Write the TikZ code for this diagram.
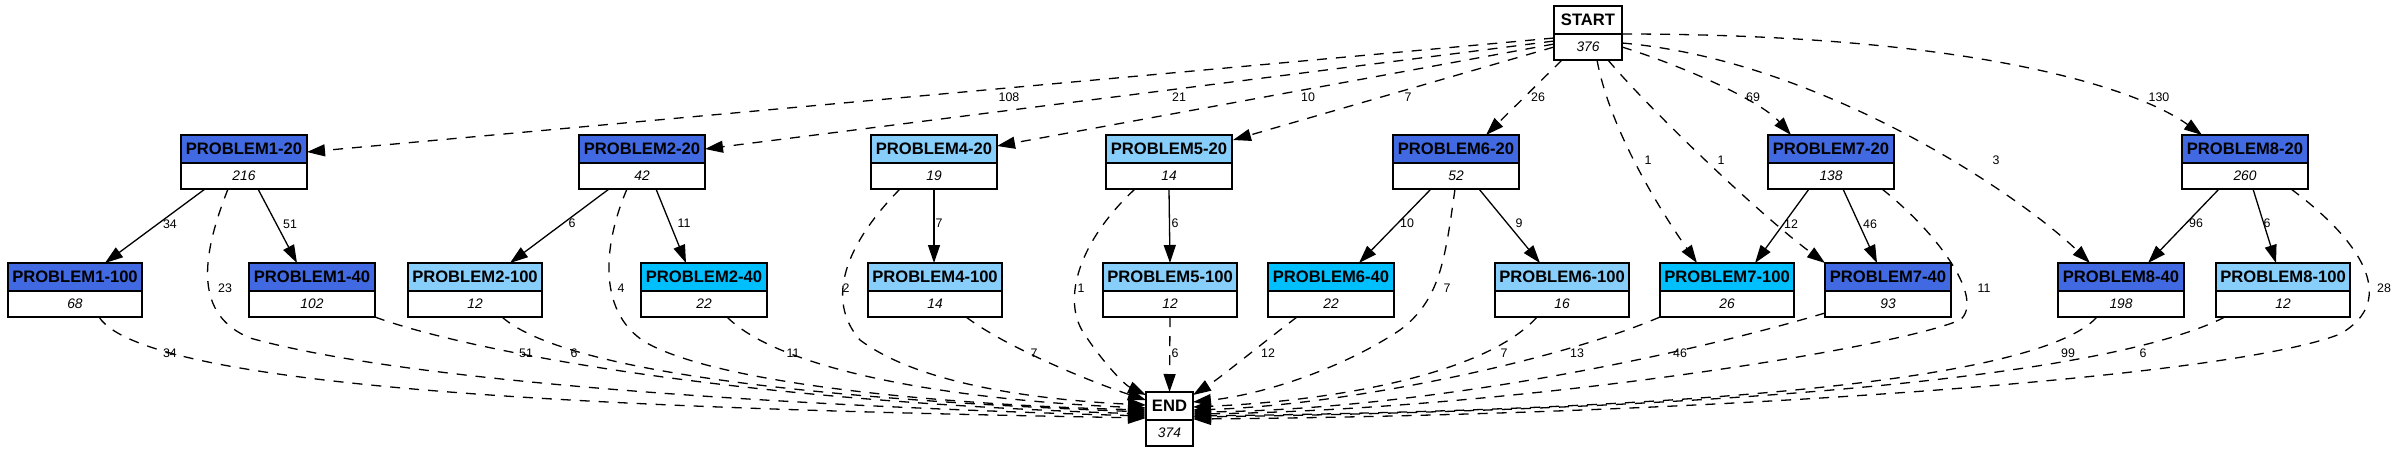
\documentclass[tikz,border=0pt]{standalone}
\usepackage{fontspec}
\newfontfamily\lsans{Liberation Sans}
\usetikzlibrary{arrows.meta,calc}
\definecolor{royal}{HTML}{4169E1}
\definecolor{lsky}{HTML}{87CEFA}
\definecolor{dsky}{HTML}{00BFFF}
\tikzset{
 boxn/.style={draw=black, line width=0.75pt, inner sep=0pt, outer sep=0pt, minimum height=27pt},
 ttl/.style={font=\lsans\bfseries\fontsize{8.3}{9}\selectfont, inner sep=0pt},
 val/.style={font=\lsans\itshape\fontsize{6.9}{8}\selectfont, inner sep=0pt},
 lbl/.style={font=\lsans\fontsize{6.2}{7}\selectfont, inner sep=0pt},
 solidarr/.style={line width=0.65pt, -{Triangle[length=9pt,width=6pt]}},
 dasharr/.style={solidarr, dash pattern=on 5pt off 4.5pt},
}
\newcommand\gbox[7]{%
  \node[boxn, minimum width=#4*0.5pt, anchor=north west, fill=#5,
    path picture={\fill[white] ([yshift=-14pt]path picture bounding box.north west) rectangle (path picture bounding box.south east);
      \draw[line width=0.75pt] ([yshift=-14pt]path picture bounding box.north west) -- ([yshift=-14pt]path picture bounding box.north east);}]
    (#1) at (#2,#3) {};
  \node[ttl] (#1-t) at ([yshift=-7pt]#1.north) {#6};
  \node[val] (#1-v) at ([yshift=6.5pt]#1.south) {#7};
}
\begin{document}
\begin{tikzpicture}[x=0.5pt,y=-0.5pt]
\useasboundingbox[fill=white] (0,0) rectangle (2400,452);
% nodes
\gbox{start}{1554}{6}{68}{white}{START}{376}
\gbox{p1a}{181}{135}{126}{royal}{PROBLEM1-20}{216}
\gbox{p2a}{579}{135}{126}{royal}{PROBLEM2-20}{42}
\gbox{p4a}{871}{135}{126}{lsky}{PROBLEM4-20}{19}
\gbox{p5a}{1106}{135}{126}{lsky}{PROBLEM5-20}{14}
\gbox{p6a}{1393}{135}{126}{royal}{PROBLEM6-20}{52}
\gbox{p7a}{1768}{135}{126}{royal}{PROBLEM7-20}{138}
\gbox{p8a}{2182}{135}{126}{royal}{PROBLEM8-20}{260}
\gbox{p1c}{8}{263}{134}{royal}{PROBLEM1-100}{68}
\gbox{p1b}{249}{263}{126}{royal}{PROBLEM1-40}{102}
\gbox{p2c}{408}{263}{134}{lsky}{PROBLEM2-100}{12}
\gbox{p2b}{641}{263}{126}{dsky}{PROBLEM2-40}{22}
\gbox{p4c}{868}{263}{134}{lsky}{PROBLEM4-100}{14}
\gbox{p5c}{1103}{263}{134}{lsky}{PROBLEM5-100}{12}
\gbox{p6b}{1268}{263}{126}{dsky}{PROBLEM6-40}{22}
\gbox{p6c}{1495}{263}{134}{lsky}{PROBLEM6-100}{16}
\gbox{p7c}{1660}{263}{134}{dsky}{PROBLEM7-100}{26}
\gbox{p7b}{1825}{263}{126}{royal}{PROBLEM7-40}{93}
\gbox{p8b}{2058}{263}{126}{royal}{PROBLEM8-40}{198}
\gbox{p8c}{2216}{263}{134}{lsky}{PROBLEM8-100}{12}
\gbox{end}{1146}{392}{47}{white}{END}{374}
% solid edges
\draw[solidarr] ($(p1a.north west)+(24,54)$) -- ($(p1c.north west)+(97,0)$);
\draw[solidarr] ($(p1a.north west)+(77,54)$) -- ($(p1b.north west)+(48,0)$);
\draw[solidarr] ($(p2a.north west)+(30,54)$) -- ($(p2c.north west)+(102,0)$);
\draw[solidarr] ($(p2a.north west)+(77,54)$) -- ($(p2b.north west)+(45,0)$);
\draw[solidarr] ($(p4a.north west)+(63,54)$) -- ($(p4c.north west)+(66,0)$);
\draw[solidarr] (p5a.south) -- (p5c.north);
\draw[solidarr] ($(p6a.north west)+(38,54)$) -- ($(p6b.north west)+(91,0)$);
\draw[solidarr] ($(p6a.north west)+(86,54)$) -- ($(p6c.north west)+(45,0)$);
\draw[solidarr] ($(p7a.north west)+(41,54)$) -- ($(p7c.north west)+(95,0)$);
\draw[solidarr] ($(p7a.north west)+(75,54)$) -- ($(p7b.north west)+(52,0)$);
\draw[solidarr] ($(p8a.north west)+(37,54)$) -- ($(p8b.north west)+(90,0)$);
\draw[solidarr] ($(p8a.north west)+(71,54)$) -- ($(p8c.north west)+(60,0)$);
% start edges
\draw[dasharr] ($(start.north west)+(0,32)$) -- ($(p1a.north west)+(126,17)$);
\draw[dasharr] ($(start.north west)+(0,35)$) -- ($(p2a.north west)+(126,14)$);
\draw[dasharr] ($(start.north west)+(0,38)$) -- ($(p4a.north west)+(126,11)$);
\draw[dasharr] ($(start.north west)+(0,41)$) -- ($(p5a.north west)+(127,5)$);
\draw[dasharr] ($(start.north west)+(8,54)$) -- ($(p6a.north west)+(93,0)$);
\draw[dasharr] ($(start.north west)+(43,54)$) .. controls (1610,130) and (1660,210) .. ($(p7c.north west)+(37,0)$);
\draw[dasharr] ($(start.north west)+(54,54)$) .. controls (1650,110) and (1760,215) .. (p7b.north west);
\draw[dasharr] ($(start.north west)+(68,41)$) .. controls (1680,65) and (1760,100) .. ($(p7a.north west)+(23,0)$);
\draw[dasharr] ($(start.north west)+(68,37)$) .. controls (1820,60) and (2020,195) .. ($(p8b.north west)+(32,0)$);
\draw[dasharr] ($(start.north west)+(68,28)$) .. controls (1980,34) and (2140,90) .. ($(p8a.north west)+(20,0)$);
% end edges, left
\draw[dasharr] ($(p1c.north west)+(91,54)$) .. controls (150,395) and (700,410) .. ($(end.north west)+(0,26)$);
\draw[dasharr] ($(p1a.north west)+(47,54)$) .. controls (200,260) and (195,315) .. (250,338) .. controls (400,380) and (750,405) .. ($(end.north west)+(0,24)$);
\draw[dasharr] (p1b.south east) .. controls (450,345) and (700,400) .. ($(end.north west)+(0,22)$);
\draw[dasharr] ($(p2c.north west)+(94,54)$) .. controls (545,355) and (700,395) .. ($(end.north west)+(0,20)$);
\draw[dasharr] ($(p2a.north west)+(48,54)$) .. controls (605,240) and (595,310) .. (645,342) .. controls (720,385) and (950,405) .. ($(end.north west)+(0,18)$);
\draw[dasharr] ($(p2b.north west)+(86,54)$) .. controls (780,370) and (950,400) .. ($(end.north west)+(0,16)$);
\draw[dasharr] ($(p4a.north west)+(29,54)$) .. controls (845,245) and (825,300) .. (860,340) .. controls (920,385) and (1040,400) .. ($(end.north west)+(0,13)$);
\draw[dasharr] ($(p4c.north west)+(98,54)$) .. controls (1010,350) and (1100,385) .. ($(end.north west)+(0,8)$);
\draw[dasharr] ($(p5a.north west)+(29,54)$) .. controls (1080,240) and (1060,300) .. (1085,335) .. controls (1105,365) and (1125,385) .. ($(end.north west)+(0,3)$);
\draw[dasharr] (p5c.south) -- (end.north);
% end edges, right
\draw[dasharr] ($(p6b.north west)+(29,54)$) .. controls (1260,345) and (1220,378) .. ($(end.north west)+(47,3)$);
\draw[dasharr] ($(p6a.north west)+(62,54)$) .. controls (1445,260) and (1440,300) .. (1400,330) .. controls (1340,370) and (1260,395) .. ($(end.north west)+(47,10)$);
\draw[dasharr] ($(p6c.north west)+(42,54)$) .. controls (1490,370) and (1350,400) .. ($(end.north west)+(47,15)$);
\draw[dasharr] (p7c.south west) .. controls (1560,360) and (1350,405) .. ($(end.north west)+(47,18)$);
\draw[dasharr] ($(p7b.north west)+(0,50)$) .. controls (1650,365) and (1400,410) .. ($(end.north west)+(47,20)$);
\draw[dasharr] ($(p7a.north west)+(114,54)$) .. controls (1940,235) and (1985,300) .. (1960,320) .. controls (1890,350) and (1500,410) .. ($(end.north west)+(47,22)$);
\draw[dasharr] ($(p8b.north west)+(39,54)$) .. controls (2040,380) and (1700,410) .. ($(end.north west)+(47,24)$);
\draw[dasharr] ($(p8c.north west)+(9,54)$) .. controls (2100,380) and (1700,410) .. ($(end.north west)+(47,25)$);
\draw[dasharr] ($(p8a.north west)+(109,54)$) .. controls (2360,240) and (2400,300) .. (2340,334) .. controls (2230,378) and (1700,415) .. ($(end.north west)+(47,27)$);
% labels
\node[lbl] (l1) at (170,224) {34};
\node[lbl] (l2) at (290,224) {51};
\node[lbl] (l3) at (572,223) {6};
\node[lbl] (l4) at (684,223) {11};
\node[lbl] (l5) at (939,223) {7};
\node[lbl] (l6) at (1175,223) {6};
\node[lbl] (l7) at (1407,223) {10};
\node[lbl] (l8) at (1519,223) {9};
\node[lbl] (l9) at (1791,224) {12};
\node[lbl] (l10) at (1870,224) {46};
\node[lbl] (l11) at (2196,223) {96};
\node[lbl] (l12) at (2267,223) {6};
\node[lbl] (l13) at (1009,97) {108};
\node[lbl] (l14) at (1179,97) {21};
\node[lbl] (l15) at (1308,97) {10};
\node[lbl] (l16) at (1408,97) {7};
\node[lbl] (l17) at (1538,97) {26};
\node[lbl] (l18) at (1753,97) {69};
\node[lbl] (l19) at (2159,97) {130};
\node[lbl] (l20) at (1648,160) {1};
\node[lbl] (l21) at (1721,160) {1};
\node[lbl] (l22) at (1996,160) {3};
\node[lbl] (l23) at (170,353) {34};
\node[lbl] (l24) at (225,288) {23};
\node[lbl] (l25) at (526,353) {51};
\node[lbl] (l26) at (574,353) {6};
\node[lbl] (l27) at (621,288) {4};
\node[lbl] (l28) at (793,353) {11};
\node[lbl] (l29) at (846,288) {2};
\node[lbl] (l30) at (1034,353) {7};
\node[lbl] (l31) at (1081,288) {1};
\node[lbl] (l32) at (1175,353) {6};
\node[lbl] (l33) at (1268,353) {12};
\node[lbl] (l34) at (1447,288) {7};
\node[lbl] (l35) at (1504,353) {7};
\node[lbl] (l36) at (1577,353) {13};
\node[lbl] (l37) at (1680,353) {46};
\node[lbl] (l38) at (1984,288) {11};
\node[lbl] (l39) at (2068,353) {99};
\node[lbl] (l40) at (2143,353) {6};
\node[lbl] (l41) at (2384,288) {28};
\end{tikzpicture}
\end{document}
